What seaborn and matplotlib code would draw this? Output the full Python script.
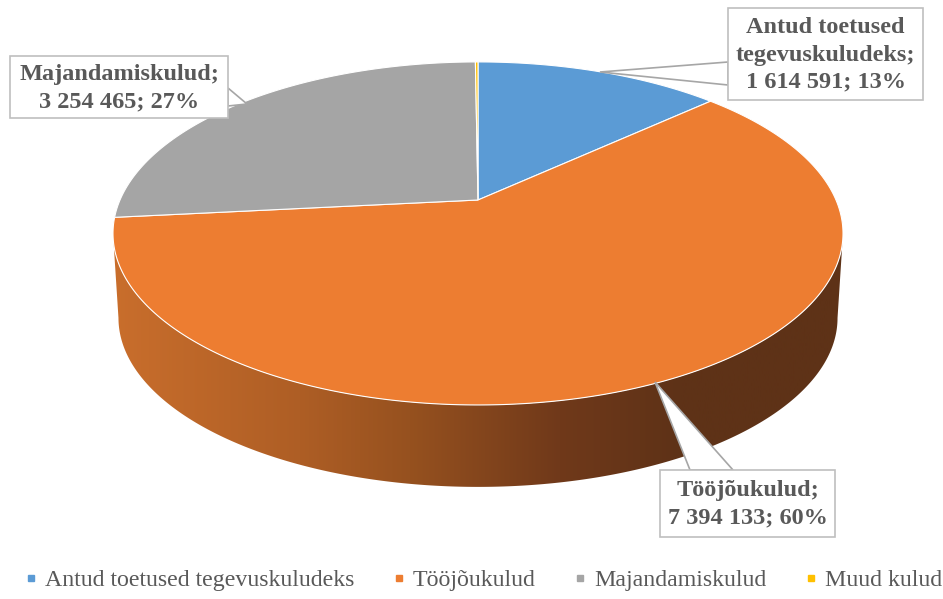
import numpy as np
import seaborn as sns
import matplotlib.pyplot as plt
from matplotlib.patches import Polygon, Rectangle
from matplotlib.lines import Line2D
from matplotlib.colors import to_rgb

# data
categories = ["Antud toetused tegevuskuludeks", "Tööjõukulud", "Majandamiskulud", "Muud kulud"]
label_names = ["Antud toetused\ntegevuskuludeks", "Tööjõukulud", "Majandamiskulud", None]
values = [1614591, 7394133, 3254465, 17000]
colors = ["#5B9BD5", "#ED7D31", "#A5A5A5", "#FFC000"]

sns.set_theme(style="white")
plt.rcParams['font.family'] = ['Liberation Serif', 'DejaVu Serif']

fig = plt.figure(figsize=(9.43, 5.99), dpi=100)
ax = fig.add_axes([0, 0, 1, 1])
ax.set_xlim(0, 943)
ax.set_ylim(599, 0)
ax.axis("off")

# perspective projection of the pie disk
cx, cy = 478, 200
A, B, k = 358, 165, 0.195
depth = 85


def proj(theta, shrink=1.0, dy=0.0):
    u, v = np.sin(theta), np.cos(theta)
    w = 1 + k * v
    return cx + shrink * A * u / w, cy - shrink * B * v / w + dy


total = sum(values)
fracs = np.array(values) / total
edges = np.concatenate([[0], np.cumsum(fracs)]) * 2 * np.pi

# side wall (front, visible part only)
t_r = np.arccos(-k)
t_l = 2 * np.pi - np.arccos(-k)
ts = np.linspace(t_r, t_l, 300)
tx, ty = proj(ts)
bx, by = proj(ts[::-1], shrink=0.985, dy=depth)
side = Polygon(np.column_stack([np.r_[tx, bx], np.r_[ty, by]]), closed=True,
               facecolor="none", edgecolor="none", zorder=1)
ax.add_patch(side)

stops_x = [113, 300, 410, 560, 680, 843]
stops_c = ["#C96E2C", "#AE5E25", "#96511F", "#70391A", "#5E3217", "#5E3217"]
gx = np.linspace(110, 846, 400)
rgb = np.array([to_rgb(c) for c in stops_c])
grad = np.stack([np.interp(gx, stops_x, rgb[:, i]) for i in range(3)], axis=-1)
im = ax.imshow(grad[np.newaxis, :, :], extent=[110, 846, 600, 0], aspect="auto", zorder=1)
im.set_clip_path(side)
ax.set_xlim(0, 943)
ax.set_ylim(599, 0)

# top face slices
for i, c in enumerate(colors):
    th = np.linspace(edges[i], edges[i + 1], max(3, int(600 * fracs[i])))
    px, py = proj(th)
    pts = np.column_stack([np.r_[cx, px], np.r_[cy, py]])
    ax.add_patch(Polygon(pts, closed=True, facecolor=c, edgecolor="white",
                         linewidth=0.8, zorder=2))

# callout labels
boxes = {0: (728, 8, 923, 100), 1: (660, 470, 835, 537), 2: (10, 56, 228, 118)}
anchors = {0: (600, 72), 1: (655, 382), 2: (247, 104)}
bases = {0: [(728, 62), (728, 85)], 1: [(690, 470), (733, 470)], 2: [(228, 88), (228, 106)]}
for i in boxes:
    pct = round(fracs[i] * 100)
    num = f"{values[i]:,}".replace(",", " ")
    txt = f"{label_names[i]};\n{num}; {pct}%"
    x0, y0, x1, y1 = boxes[i]
    b1, b2 = bases[i]
    ax.add_patch(Polygon([b1, anchors[i], b2], closed=True, facecolor="white",
                         edgecolor="#A6A6A6", linewidth=1.2, zorder=3))
    ax.add_patch(Rectangle((x0, y0), x1 - x0, y1 - y0, facecolor="white",
                           edgecolor="#BFBFBF", linewidth=1.2, zorder=4))
    ax.text((x0 + x1) / 2, (y0 + y1) / 2 + 1, txt, ha="center", va="center",
            fontsize=17.5, fontweight="bold", color="#595959", linespacing=1.38, zorder=5)

# legend
handles = [Line2D([], [], marker="s", linestyle="none", markersize=5,
                  markerfacecolor=c, markeredgecolor=c) for c in colors]
fig.legend(handles, categories, loc="center", bbox_to_anchor=(483 / 943, 1 - 580 / 599),
           ncol=4, frameon=False, fontsize=17.2, handlelength=0.6, handletextpad=0.3,
           columnspacing=1.55, labelcolor="#595959")

fig.savefig("out.png", dpi=100)
